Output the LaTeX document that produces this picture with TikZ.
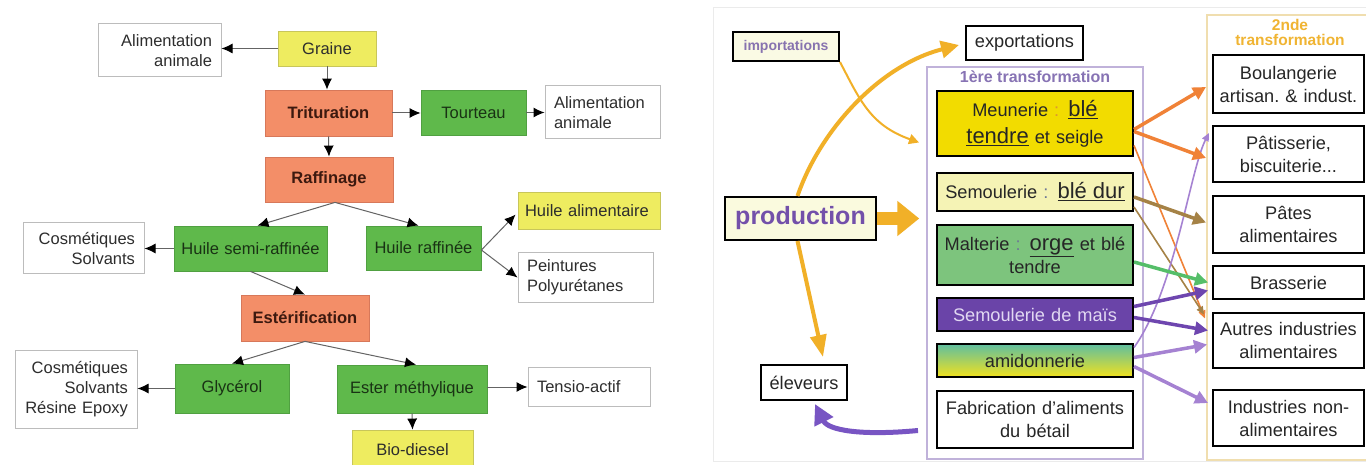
\documentclass[tikz,border=0pt]{standalone}
\usepackage{fontspec}
\setmainfont{Liberation Sans}
\usetikzlibrary{arrows.meta,calc}
\definecolor{lyel}{RGB}{238,236,96}
\definecolor{lyelB}{RGB}{200,198,90}
\definecolor{lsal}{RGB}{243,142,104}
\definecolor{lsalB}{RGB}{215,120,90}
\definecolor{lgrn}{RGB}{95,185,75}
\definecolor{lgrnB}{RGB}{80,160,65}
\definecolor{lgray}{RGB}{188,188,188}
\definecolor{ltext}{RGB}{45,45,45}
\definecolor{gtext}{RGB}{25,50,20}
\definecolor{stext}{RGB}{60,25,15}
\definecolor{larr}{RGB}{100,100,100}
\definecolor{impfill}{RGB}{250,250,228}
\definecolor{imptext}{RGB}{135,115,175}
\definecolor{prodfill}{RGB}{250,250,222}
\definecolor{prodtext}{RGB}{115,80,170}
\definecolor{c1col}{RGB}{192,178,218}
\definecolor{t1col}{RGB}{135,115,180}
\definecolor{c2col}{RGB}{240,222,175}
\definecolor{t2col}{RGB}{240,180,50}
\definecolor{meunfill}{RGB}{242,220,0}
\definecolor{semfill}{RGB}{245,243,181}
\definecolor{maltfill}{RGB}{125,196,125}
\definecolor{maisfill}{RGB}{106,68,168}
\definecolor{maistext}{RGB}{225,216,242}
\definecolor{amidtop}{RGB}{95,190,160}
\definecolor{amidmid}{RGB}{185,215,110}
\definecolor{amidbot}{RGB}{242,226,30}
\definecolor{colA}{RGB}{220,150,50}
\definecolor{colB}{RGB}{110,120,150}
\definecolor{oy}{RGB}{241,176,40}
\definecolor{orn}{RGB}{240,130,55}
\definecolor{brn}{RGB}{165,130,70}
\definecolor{grn}{RGB}{85,190,105}
\definecolor{prp}{RGB}{110,70,175}
\definecolor{lprp}{RGB}{165,130,210}
\definecolor{prpA}{RGB}{120,85,195}
\newcommand\lfnt{\fontsize{16.5}{20}\selectfont}
\newcommand\rfnt{\fontsize{18.2}{23}\selectfont}
\newcommand\bigw[1]{{\fontsize{22}{27}\selectfont\underline{#1}}}
\begin{document}
\begin{tikzpicture}[x=1pt,y=-1pt,
  basebox/.style={inner xsep=5pt, inner ysep=0pt, align=center},
  wb/.style={basebox, draw=lgray, line width=1pt, fill=white, inner xsep=9pt, font=\lfnt, text=ltext},
  yb/.style={basebox, draw=lyelB, line width=0.8pt, fill=lyel, font=\lfnt, text=ltext},
  sb/.style={basebox, draw=lsalB, line width=0.8pt, fill=lsal, font=\lfnt\bfseries, text=stext},
  gb/.style={basebox, draw=lgrnB, line width=0.8pt, fill=lgrn, font=\lfnt, text=gtext},
  la/.style={draw=larr, line width=1pt, -{Latex[length=11pt,width=10pt,color=black]}},
  rb/.style={basebox, draw=black, line width=2pt, fill=white, font=\rfnt, text=black!85},
  sbx/.style={rb, inner xsep=1pt, text width=149pt},
  carr/.style={line width=3.5pt, -{Triangle[length=13pt,width=13pt]}},
  tarr/.style={line width=1.6pt, -{Triangle[length=8pt,width=7pt]}},
  oyarr/.style={draw=oy, line width=4pt, -{Triangle[length=18pt,width=17pt]}}
]
\useasboundingbox (0,0) rectangle (1366,465);
\fill[white] (0,0) rectangle (1366,465);

% ---------------- left diagram ----------------
\node[wb, align=right, text width=105pt, minimum height=53pt] (alimA) at (159.5,50.5) {Alimentation\\animale};
\node[yb, text width=88pt, minimum height=35pt] (graine) at (327,48.5) {Graine};
\node[sb, text width=117pt, minimum height=46pt] (trit) at (328.5,113) {Trituration};
\node[gb, text width=95pt, minimum height=45pt] (tourt) at (473.5,112.5) {Tourteau};
\node[wb, align=left, text width=97pt, minimum height=53pt] (alimB) at (602.5,112.5) {Alimentation\\animale};
\node[sb, text width=118pt, minimum height=45pt] (raff) at (329,179.5) {Raffinage};
\node[gb, text width=143pt, minimum height=45pt] (hsr) at (250.5,248.5) {Huile semi-raffinée};
\node[gb, text width=105pt, minimum height=44pt] (hr) at (423.5,248) {Huile raffinée};
\node[wb, align=right, text width=103pt, minimum height=51pt] (cosA) at (83.5,248.5) {Cosmétiques\\Solvants};
\node[yb, align=left, inner xsep=7pt, text width=128pt, minimum height=37pt] (halim) at (589,210.5) {Huile alimentaire};
\node[wb, align=left, text width=117pt, minimum height=49pt] (peint) at (585.5,277.5) {Peintures\\Polyurétanes};
\node[sb, text width=118pt, minimum height=46pt] (esteri) at (305,318) {Estérification};
\node[gb, text width=104pt, minimum height=49pt] (glyc) at (232,388.5) {Glycérol};
\node[gb, text width=140pt, minimum height=48pt] (esterm) at (412,389) {Ester méthylique};
\node[wb, align=right, text width=104pt, minimum height=78pt] (cosB) at (76,389) {Cosmétiques\\Solvants\\Résine Epoxy};
\node[wb, align=left, text width=104pt, minimum height=39pt] (tensio) at (589,386.5) {Tensio-actif};
\node[yb, text width=111pt, minimum height=40pt] (bio) at (412.5,450) {Bio-diesel};

\draw[la] (graine.west) -- (graine.west -| alimA.east);
\draw[la] (graine.south) -- (graine.south |- trit.north);
\draw[la] (trit.east) -- (trit.east -| tourt.west);
\draw[la] (tourt.east) -- (tourt.east -| alimB.west);
\draw[la] (trit.south) -- (raff.north);
\draw[la] ($(raff.south)+(6,0)$) -- ($(hsr.north)+(7,0)$);
\draw[la] ($(raff.south)+(6,0)$) -- ($(hr.north)+(-5,0)$);
\draw[la] (hsr.west) -- (hsr.west -| cosA.east);
\draw[la] ($(hr.east)+(0,2)$) -- ($(halim.west)+(-2,4)$);
\draw[la] ($(hr.east)+(0,2)$) -- (peint.west);
\draw[la] (hsr.south) -- (esteri.north);
\draw[la] (esteri.south) -- (glyc.north);
\draw[la] (esteri.south) -- ($(esterm.north)+(4,0)$);
\draw[la] (glyc.west) -- (glyc.west -| cosB.east);
\draw[la] ($(esterm.east)+(0,-2)$) -- ($(esterm.east -| tensio.west)+(0,-2)$);
\draw[la] (esterm.south) -- (bio.north);

% ---------------- right diagram ----------------
\draw[black!8, line width=1pt] (713,8) rectangle (1375,461);
\node[draw=c1col, line width=1.5pt, minimum width=216pt, minimum height=392pt, inner sep=0pt] (c1) at (1035,263) {};
\node[font=\bfseries\fontsize{16}{16}\selectfont, text=t1col] (t1) at (1035,77) {1ère transformation};
\node[draw=c2col, line width=1.5pt, minimum width=170pt, minimum height=445pt, inner sep=0pt] (c2) at (1292,237.5) {};
\node[font=\bfseries\fontsize{15.5}{15}\selectfont, text=t2col, align=center] (t2) at (1290,32) {2nde\\transformation};

\node[rb, fill=impfill, font=\bfseries\fontsize{14}{16}\selectfont, text=imptext, text width=96pt, minimum height=29pt] (imp) at (786,46.5) {importations};
\node[rb, text width=107pt, minimum height=34pt] (expo) at (1024.5,43) {exportations};
\node[rb, fill=prodfill, font=\bfseries\fontsize{25}{28}\selectfont, text=prodtext, text width=141pt, minimum height=43pt] (prod) at (800.5,218.5) {production};
\node[rb, text width=76pt, minimum height=35pt] (elev) at (804,382.5) {éleveurs};

\node[rb, fill=meunfill, text width=186pt, minimum height=65pt, font=\fontsize{18.2}{27}\selectfont] (meun) at (1035,123.5) {Meunerie {\color{colA}:} \bigw{blé}\\\bigw{tendre} et seigle};
\node[rb, fill=semfill, text width=186pt, minimum height=38pt] (sem) at (1035,192) {Semoulerie {\color{colB}:} \bigw{blé dur}};
\node[rb, fill=maltfill, text width=186pt, minimum height=60pt] (malt) at (1035,255) {Malterie {\color{colB}:} \bigw{orge} et blé\\tendre};
\node[rb, fill=maisfill, text=maistext, text width=186pt, minimum height=33pt] (mais) at (1035,314.5) {Semoulerie de maïs};
\node[rb, top color=amidtop, middle color=amidmid, bottom color=amidbot, text width=186pt, minimum height=33pt] (amid) at (1035,360.5) {amidonnerie};
\node[rb, text width=186pt, minimum height=57pt] (fab) at (1035,419.5) {Fabrication d'aliments\\du bétail};

\node[sbx, minimum height=58pt] (boul) at (1288.5,84) {Boulangerie\\artisan.\ \&\ indust.};
\node[sbx, minimum height=56pt] (pat) at (1288.5,154) {Pâtisserie,\\biscuiterie...};
\node[sbx, minimum height=57pt] (pates) at (1288.5,224.5) {Pâtes\\alimentaires};
\node[sbx, minimum height=33pt] (bras) at (1288.5,282.5) {Brasserie};
\node[sbx, minimum height=55pt] (autres) at (1288.5,340.5) {Autres industries\\alimentaires};
\node[sbx, minimum height=56pt] (indn) at (1288.5,418) {Industries non-\\alimentaires};

% left-side flows
\draw[draw=oy, line width=13pt, -{Triangle[length=22pt,width=34pt]}] (prod.east) -- ($(c1.west |- prod.east)+(-7,0)$);
\draw[oyarr] ($(prod.north)+(-3,0)$) .. controls (820,130) and (880,65) .. ($(expo.west)+(-6,2)$);
\draw[draw=oy, line width=2pt, -{Triangle[length=10pt,width=10pt]}] (imp.south east) .. controls (860,100) and (870,125) .. ($(meun.west)+(-17,19)$);
\draw[draw=oy, line width=4pt, -{Triangle[length=22pt,width=16pt]}] ($(prod.south)+(-3,0)$) -- ($(elev.north)+(19,-7)$);
\draw[draw=prpA, line width=5pt, -{Triangle[length=20pt,width=20pt]}] ($(fab.west)+(-18,11)$) .. controls (860,436) and (828,430) .. ($(elev.south)+(11,3)$);

% between transformations: thin first
\draw[tarr, draw=orn] ($(meun.east)+(0,22)$) -- ($(autres.west)+(-7,-22)$);
\draw[tarr, draw=brn] ($(sem.east)+(0,15)$) -- ($(autres.west)+(-8,-26)$);
\draw[tarr, draw=lprp] ($(amid.east)+(0,-13)$) .. controls (1175,290) and (1190,170) .. ($(pat.west)+(-3,-21)$);
% thick
\draw[carr, draw=orn] ($(meun.east)+(0,6)$) -- ($(boul.west)+(-6,3)$);
\draw[carr, draw=orn] ($(meun.east)+(0,8)$) -- ($(pat.west)+(-6,4)$);
\draw[carr, draw=brn] ($(sem.east)+(0,5)$) -- ($(pates.west)+(-6,-2)$);
\draw[carr, draw=grn] ($(malt.east)+(0,7)$) -- ($(bras.west)+(-4,0)$);
\draw[carr, draw=prp] ($(mais.east)+(0,-8)$) -- ($(bras.west)+(-4,8)$);
\draw[carr, draw=prp] ($(mais.east)+(0,3)$) -- ($(autres.west)+(-4,-10)$);
\draw[carr, draw=lprp] ($(amid.east)+(0,-3)$) -- ($(autres.west)+(-5,4)$);
\draw[carr, draw=lprp] ($(amid.east)+(0,6)$) -- ($(indn.west)+(-4,-15)$);
\end{tikzpicture}
\end{document}
